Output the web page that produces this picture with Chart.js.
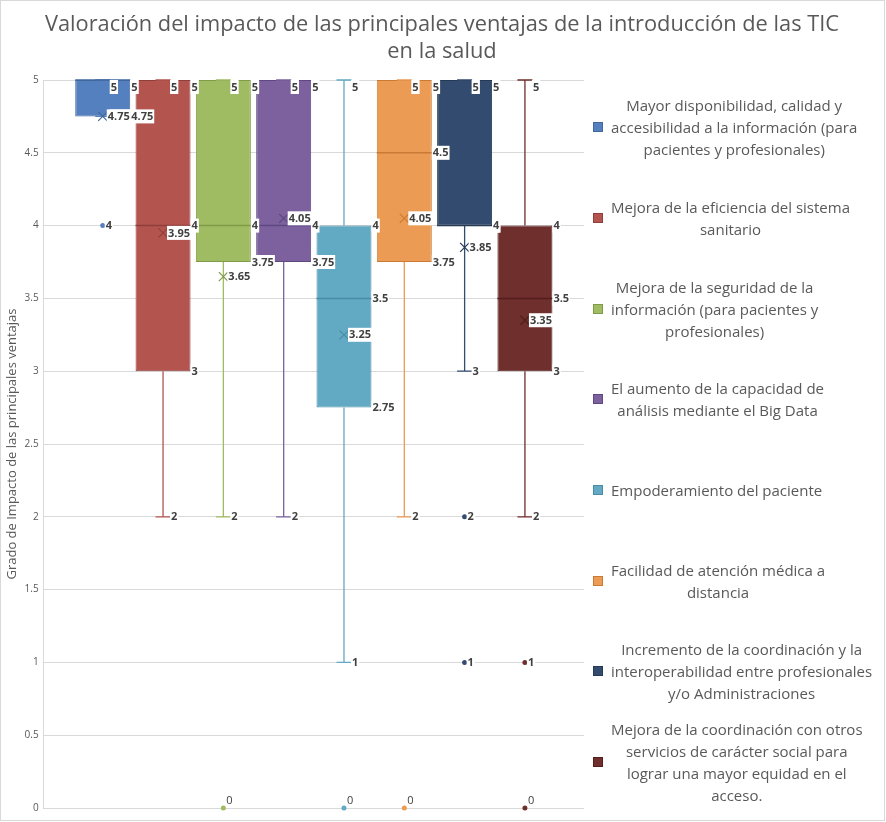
<!DOCTYPE html>
<html>
<head>
<meta charset="utf-8">
<script src="https://cdn.jsdelivr.net/npm/chart.js"></script>
<style>
    body { margin: 0; background: #fff; }
    #wrap { position: relative; width: 886px; height: 822px; }
    #frame { position: absolute; left: 0; top: 0; width: 883px; height: 819px; border: 1px solid #d9d9d9; pointer-events: none; }
    #title { position: absolute; left: 2px; top: 9px; width: 880px; text-align: center; font-family: "Open Sans", sans-serif; font-size: 21.8px; line-height: 27px; color: #595959; white-space: nowrap; }
    #legend { position: absolute; left: 590px; top: 82px; width: 296px; font-family: "Open Sans", sans-serif; font-size: 15px; color: #595959; }
    .item { height: 90.7px; display: flex; align-items: center; }
    .marker { width: 8px; height: 8px; border: 1px solid; margin: 0 8px 0 3px; flex: none; }
    .text { display: inline-block; text-align: center; line-height: 22px; white-space: nowrap; }
</style>
</head>
<body>
<div id="wrap">
    <canvas id="chart" width="886" height="822"></canvas>
    <div id="title">Valoración del impacto de las principales ventajas de la introducción de las TIC<br>en la salud</div>
    <div id="legend"></div>
    <div id="frame"></div>
</div>
<script>
const legendLines = [
    ["Mayor disponibilidad, calidad y", "accesibilidad a la información (para", "pacientes y profesionales)"],
    ["Mejora de la eficiencia del sistema", "sanitario"],
    ["Mejora de la seguridad de la", "información (para pacientes y", "profesionales)"],
    ["El aumento de la capacidad de", "análisis mediante el Big Data"],
    ["Empoderamiento del paciente"],
    ["Facilidad de atención médica a", "distancia"],
    ["Incremento de la coordinación y la", "interoperabilidad entre profesionales", "y/o Administraciones"],
    ["Mejora de la coordinación con otros", "servicios de carácter social para", "lograr una mayor equidad en el", "acceso."]
];
const seriesNames = legendLines.map((l) => l.join(" "));
const q1 = [4.75, 3, 3.75, 3.75, 2.75, 3.75, 4, 3];
const median = [5, 4, 4, 4, 3.5, 4.5, 4, 3.5];
const q3 = [5, 5, 5, 5, 4, 5, 5, 4];
const whiskerMin = [4.75, 2, 2, 2, 1, 2, 3, 2];
const whiskerMax = [5, 5, 5, 5, 5, 5, 5, 5];
const means = [4.75, 3.95, 3.65, 4.05, 3.25, 4.05, 3.85, 3.35];
const outliers = [[4], [], [0], [], [0], [0], [2, 1], [1, 0]];

const fills = ["#5580bf", "#b3544f", "#a0bc62", "#7c619e", "#62a9c4", "#eb9b53", "#334b6f", "#6f2f2d"];
const borders = ["#41679d", "#8e3f3b", "#7f9a48", "#5e4880", "#4a8ba5", "#c97b36", "#253955", "#531e1d"];

// legend in html, to get the centred wrapped text
const legend = document.getElementById("legend");
legendLines.forEach((lines, i) => {
    let item = document.createElement("div");
    item.className = "item";
    let marker = document.createElement("div");
    marker.className = "marker";
    marker.style.background = fills[i];
    marker.style.borderColor = borders[i];
    item.appendChild(marker);
    let text = document.createElement("div");
    text.className = "text";
    text.innerHTML = lines.join("<br>");
    item.appendChild(text);
    legend.appendChild(item);
});

function drawLabel(ctx, area, text, x, y, bold) {
    ctx.font = (bold ? "bold " : "") + "11px 'Open Sans'";
    const w = ctx.measureText(text).width;
    const h = 14;
    if (y - h / 2 < area.top) y = area.top + h / 2;
    if (y + h / 2 > area.bottom) {
        y = area.bottom - h / 2 - 1;
        ctx.font = "11px 'Open Sans'";
    } else {
        ctx.fillStyle = "#fff";
        ctx.fillRect(x, y - h / 2, w + 2, h);
    }
    ctx.fillStyle = "#404040";
    ctx.textBaseline = "middle";
    ctx.textAlign = "left";
    ctx.fillText(text, x + 1, y + 0.5);
}

const boxPlot = {
    id: "boxPlot",
    afterDatasetsDraw(chart) {
        const ctx = chart.ctx;
        const yScale = chart.scales.y;
        const area = chart.chartArea;
        ctx.save();
        chart.data.datasets.forEach((ds, i) => {
            const bar = chart.getDatasetMeta(i).data[0];
            const cx = bar.x;
            const half = bar.width / 2;
            const yOf = (v) => yScale.getPixelForValue(v);
            // whiskers and caps
            ctx.strokeStyle = fills[i];
            ctx.lineWidth = 1.3;
            ctx.beginPath();
            ctx.moveTo(cx, yOf(q3[i]));
            ctx.lineTo(cx, yOf(whiskerMax[i]));
            ctx.moveTo(cx - 7.5, yOf(whiskerMax[i]));
            ctx.lineTo(cx + 7.5, yOf(whiskerMax[i]));
            ctx.moveTo(cx, yOf(q1[i]));
            ctx.lineTo(cx, yOf(whiskerMin[i]));
            ctx.moveTo(cx - 7.5, yOf(whiskerMin[i]));
            ctx.lineTo(cx + 7.5, yOf(whiskerMin[i]));
            ctx.stroke();
            // median
            ctx.strokeStyle = borders[i];
            ctx.lineWidth = 1.5;
            ctx.beginPath();
            ctx.moveTo(cx - half, yOf(median[i]));
            ctx.lineTo(cx + half, yOf(median[i]));
            ctx.stroke();
            // mean cross
            const my = yOf(means[i]);
            ctx.lineWidth = 1.2;
            ctx.beginPath();
            ctx.moveTo(cx - 4.5, my - 4.5);
            ctx.lineTo(cx + 4.5, my + 4.5);
            ctx.moveTo(cx + 4.5, my - 4.5);
            ctx.lineTo(cx - 4.5, my + 4.5);
            ctx.stroke();
            // outliers
            ctx.fillStyle = fills[i];
            outliers[i].forEach((v) => {
                ctx.beginPath();
                ctx.arc(cx, yOf(v), 2.5, 0, Math.PI * 2);
                ctx.fill();
            });
        });
        chart.data.datasets.forEach((ds, i) => {
            const bar = chart.getDatasetMeta(i).data[0];
            const cx = bar.x;
            const right = bar.x + bar.width / 2;
            const yOf = (v) => yScale.getPixelForValue(v);
            drawLabel(ctx, area, String(whiskerMax[i]), cx + 7, yOf(whiskerMax[i]), true);
            drawLabel(ctx, area, String(whiskerMin[i]), cx + 7, yOf(whiskerMin[i]), true);
            drawLabel(ctx, area, String(q3[i]), right, yOf(q3[i]), true);
            drawLabel(ctx, area, String(median[i]), right, yOf(median[i]), true);
            drawLabel(ctx, area, String(q1[i]), right, yOf(q1[i]), true);
            drawLabel(ctx, area, String(means[i]), cx + 4, yOf(means[i]), true);
            outliers[i].forEach((v) => drawLabel(ctx, area, String(v), cx + 2, yOf(v), true));
        });
        ctx.restore();
    }
};

new Chart(document.getElementById("chart"), {
    type: "bar",
    data: {
        labels: [""],
        datasets: seriesNames.map((name, i) => ({
            label: name,
            data: [[q1[i], q3[i]]],
            backgroundColor: fills[i],
            borderColor: borders[i],
            borderWidth: 1,
            borderSkipped: false,
            categoryPercentage: 0.893,
            barPercentage: 0.912,
        }))
    },
    options: {
        responsive: false,
        animation: false,
        devicePixelRatio: 1,
        layout: {
            padding: { top: 80, left: 0, right: 302, bottom: 14 }
        },
        plugins: {
            legend: { display: false },
            tooltip: { enabled: false },
            title: { display: false }
        },
        scales: {
            x: { display: false },
            y: {
                min: 0,
                max: 5,
                ticks: {
                    stepSize: 0.5,
                    color: "#595959",
                    font: { family: "'Open Sans'", size: 10 },
                    padding: 5,
                    callback: (v) => String(v)
                },
                grid: { color: "#d9d9d9", drawTicks: false },
                border: { color: "#d9d9d9" },
                title: {
                    display: true,
                    text: "Grado de Impacto de las principales ventajas",
                    color: "#595959",
                    font: { family: "'Open Sans'", size: 13 },
                    padding: { top: 4, bottom: 0 }
                }
            }
        }
    },
    plugins: [boxPlot]
});
</script>
</body>
</html>
